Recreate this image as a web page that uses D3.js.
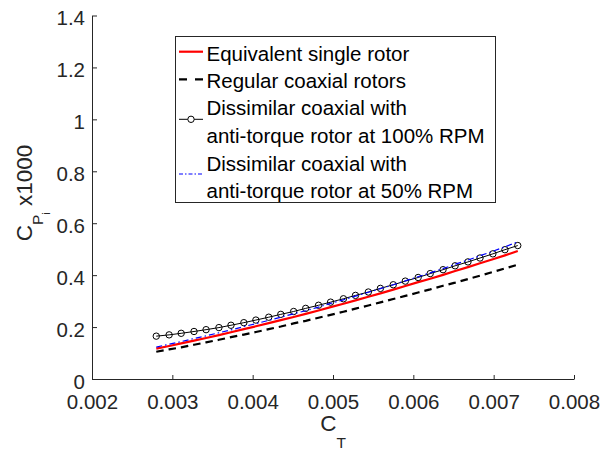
<!DOCTYPE html>
<html>
<head>
<meta charset="utf-8">
<script src="https://cdn.jsdelivr.net/npm/d3@7"></script>
<style>
  html, body { margin: 0; padding: 0; background: #fff; }
  svg { display: block; font-family: "Liberation Sans", Arial, Helvetica, sans-serif; }
</style>
</head>
<body>
<div id="chart"></div>
<script>
// thrust coefficient at each computed point
var ctValues = [0.00280, 0.00296, 0.00311, 0.00327, 0.00342, 0.00358, 0.00373, 0.00389, 0.00404, 0.00420,
                0.00435, 0.00451, 0.00466, 0.00482, 0.00497, 0.00513, 0.00528, 0.00544, 0.00559, 0.00575,
                0.00590, 0.00606, 0.00621, 0.00637, 0.00652, 0.00668, 0.00683, 0.00699, 0.00714, 0.00730];

// induced power coefficient x1000
var cpSingle = [0.117, 0.127, 0.137, 0.148, 0.158, 0.169, 0.180, 0.192, 0.203, 0.215,
                0.227, 0.239, 0.251, 0.264, 0.277, 0.290, 0.303, 0.317, 0.330, 0.344,
                0.358, 0.373, 0.386, 0.401, 0.416, 0.431, 0.446, 0.461, 0.476, 0.493];
var cpRegular = [0.105, 0.114, 0.122, 0.132, 0.141, 0.151, 0.161, 0.171, 0.181, 0.192,
                 0.202, 0.214, 0.224, 0.236, 0.247, 0.259, 0.271, 0.283, 0.295, 0.308,
                 0.320, 0.333, 0.345, 0.359, 0.371, 0.385, 0.398, 0.412, 0.426, 0.440];
var cpDissim100 = [0.165, 0.170, 0.176, 0.183, 0.190, 0.198, 0.207, 0.217, 0.227, 0.238,
                   0.249, 0.260, 0.272, 0.284, 0.296, 0.309, 0.322, 0.335, 0.349, 0.363,
                   0.377, 0.391, 0.406, 0.421, 0.436, 0.451, 0.466, 0.482, 0.498, 0.514];
var cpDissim50 = [0.123, 0.134, 0.144, 0.156, 0.166, 0.178, 0.189, 0.202, 0.213, 0.226,
                  0.238, 0.251, 0.263, 0.277, 0.291, 0.305, 0.319, 0.334, 0.348, 0.363,
                  0.378, 0.394, 0.409, 0.425, 0.442, 0.458, 0.475, 0.492, 0.509, 0.528];

var xTicks = [0.002, 0.003, 0.004, 0.005, 0.006, 0.007, 0.008];
var yTicks = [0, 0.2, 0.4, 0.6, 0.8, 1, 1.2, 1.4];
var xTickLabels = ["0.002", "0.003", "0.004", "0.005", "0.006", "0.007", "0.008"];
var yTickLabels = ["0", "0.2", "0.4", "0.6", "0.8", "1", "1.2", "1.4"];

var legendLines = [
  ["Equivalent single rotor"],
  ["Regular coaxial rotors"],
  ["Dissimilar coaxial with", "anti-torque rotor at 100% RPM"],
  ["Dissimilar coaxial with", "anti-torque rotor at 50% RPM"]
];

var W = 609, H = 451;
var axisCol = "#262626";

var svg = d3.select("#chart").append("svg")
	.attr("width", W)
	.attr("height", H);

var x = d3.scaleLinear().domain([0.002, 0.008]).range([92, 574]);
var y = d3.scaleLinear().domain([0, 1.4]).range([379, 15.5]);

// axes (ticks point inward, no box)
var gx = svg.append("g")
	.attr("transform", "translate(0,379)")
	.call(d3.axisBottom(x).tickValues(xTicks)
		.tickFormat(function(d, i) { return xTickLabels[i]; })
		.tickSizeInner(-4).tickSizeOuter(0).tickPadding(15.5));

var gy = svg.append("g")
	.attr("transform", "translate(92,0)")
	.call(d3.axisLeft(y).tickValues(yTicks)
		.tickFormat(function(d, i) { return yTickLabels[i]; })
		.tickSizeInner(-5).tickSizeOuter(0).tickPadding(7));

[gx, gy].forEach(function(g) {
	g.attr("font-family", null).attr("font-size", null);
	g.select(".domain").attr("stroke", axisCol).attr("stroke-width", 1);
	g.selectAll(".tick line").attr("stroke", axisCol);
	g.selectAll(".tick text")
		.attr("fill", axisCol)
		.style("font-size", "20.5px");
});
gy.selectAll(".tick text").attr("dy", "0.46em");

// series
var line = function(vals) {
	return d3.line()
		.x(function(d, i) { return x(ctValues[i]); })
		.y(function(d) { return y(d); })(vals);
};

svg.append("path")
	.attr("d", line(cpSingle))
	.attr("fill", "none")
	.attr("stroke", "#ff0000")
	.attr("stroke-width", 2.2);

svg.append("path")
	.attr("d", line(cpRegular))
	.attr("fill", "none")
	.attr("stroke", "#000")
	.attr("stroke-width", 2.2)
	.attr("stroke-dasharray", "7.5,5");

svg.append("path")
	.attr("d", line(cpDissim100))
	.attr("fill", "none")
	.attr("stroke", "#000")
	.attr("stroke-width", 1);

svg.selectAll("circle.mk")
	.data(cpDissim100)
	.enter().append("circle")
		.attr("class", "mk")
		.attr("cx", function(d, i) { return x(ctValues[i]); })
		.attr("cy", function(d) { return y(d); })
		.attr("r", 3.2)
		.attr("fill", "none")
		.attr("stroke", "#000")
		.attr("stroke-width", 1);

svg.append("path")
	.attr("d", line(cpDissim50))
	.attr("fill", "none")
	.attr("stroke", "#0000ff")
	.attr("stroke-width", 1.2)
	.attr("stroke-dasharray", "6,3,1.5,3");

// legend
var lg = svg.append("g");
lg.append("rect")
	.attr("x", 175.5).attr("y", 36.5)
	.attr("width", 320).attr("height", 166)
	.attr("fill", "#fff")
	.attr("stroke", axisCol)
	.attr("stroke-width", 1);

var baselines = [[60.7], [88], [115.3, 143.3], [171.3, 198.3]];
var sampleY = [51.7, 79.3, 119.3, 174];
var lx1 = 179, lx2 = 203;

lg.append("line").attr("x1", lx1).attr("x2", lx2).attr("y1", sampleY[0]).attr("y2", sampleY[0])
	.attr("stroke", "#ff0000").attr("stroke-width", 2.2);
lg.append("line").attr("x1", lx1).attr("x2", lx2).attr("y1", sampleY[1]).attr("y2", sampleY[1])
	.attr("stroke", "#000").attr("stroke-width", 2.2).attr("stroke-dasharray", "8,8");
lg.append("line").attr("x1", lx1).attr("x2", lx2).attr("y1", sampleY[2]).attr("y2", sampleY[2])
	.attr("stroke", "#000").attr("stroke-width", 1);
lg.append("circle").attr("cx", (lx1 + lx2) / 2).attr("cy", sampleY[2]).attr("r", 3.2)
	.attr("fill", "#fff").attr("stroke", "#000");
lg.append("line").attr("x1", lx1).attr("x2", lx2).attr("y1", sampleY[3]).attr("y2", sampleY[3])
	.attr("stroke", "#0000ff").attr("stroke-width", 1.2).attr("stroke-dasharray", "4,2,1.5,2");

legendLines.forEach(function(rows, i) {
	rows.forEach(function(t, j) {
		lg.append("text")
			.attr("x", 206.5)
			.attr("y", baselines[i][j])
			.attr("fill", "#000")
			.style("font-size", "20.5px")
			.text(t);
	});
});

// axis labels
var xl = svg.append("text")
	.attr("x", 333)
	.attr("y", 431)
	.attr("text-anchor", "middle")
	.attr("fill", axisCol)
	.style("font-size", "22.5px");
xl.append("tspan").text("C");
xl.append("tspan").attr("dy", 17).style("font-size", "15.5px").text("T");

var yl = svg.append("text")
	.attr("transform", "translate(32,193) rotate(-90)")
	.attr("text-anchor", "middle")
	.attr("fill", axisCol)
	.style("font-size", "22.5px");
yl.append("tspan").text("C");
yl.append("tspan").attr("dy", 11).style("font-size", "15.5px").text("P");
yl.append("tspan").attr("dy", 7).style("font-size", "11px").text("i");
yl.append("tspan").attr("dy", -18).text("\u00a0x1000");
</script>
</body>
</html>
